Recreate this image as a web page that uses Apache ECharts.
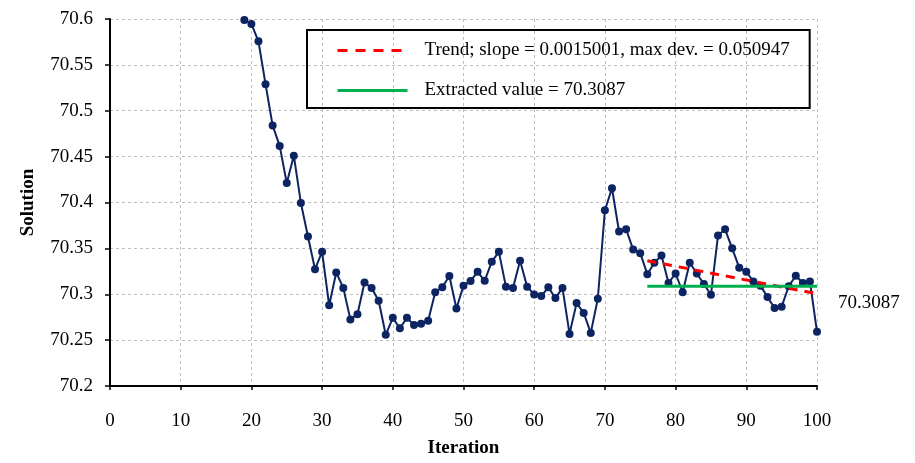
<!DOCTYPE html>
<html>
<head>
<meta charset="utf-8">
<script src="https://cdn.jsdelivr.net/npm/echarts@6/dist/echarts.min.js"></script>
<style>html,body{margin:0;padding:0;background:#fff}#c{width:915px;height:463px}</style>
</head>
<body>
<div id="c"></div>
<script>
const iterations = [19,20,21,22,23,24,25,26,27,28,29,30,31,32,33,34,35,36,37,38,39,40,41,42,43,44,45,46,47,48,49,50,51,52,53,54,55,56,57,58,59,60,61,62,63,64,65,66,67,68,69,70,71,72,73,74,75,76,77,78,79,80,81,82,83,84,85,86,87,88,89,90,91,92,93,94,95,96,97,98,99,100];
const solution = [70.599,70.5946,70.5757,70.529,70.484,70.4617,70.4213,70.451,70.3995,70.363,70.3273,70.3462,70.288,70.3237,70.3069,70.2726,70.2783,70.3129,70.3069,70.293,70.2558,70.2743,70.2629,70.2743,70.2665,70.2679,70.2711,70.3022,70.3076,70.3198,70.2844,70.3094,70.3145,70.3244,70.3147,70.3355,70.3462,70.3083,70.3069,70.3365,70.3083,70.2997,70.298,70.3076,70.2958,70.3069,70.2568,70.2904,70.2797,70.2579,70.2951,70.3916,70.4155,70.3684,70.3708,70.3487,70.3448,70.3219,70.3344,70.3423,70.3123,70.3226,70.3022,70.3344,70.3226,70.3112,70.2994,70.3641,70.3708,70.3501,70.329,70.3244,70.314,70.3094,70.2969,70.285,70.2865,70.3087,70.3201,70.3123,70.314,70.259];
const trendX = [76, 100];
const trendY = [70.3365, 70.3005];
const extractedX = [76, 100];
const extractedValue = 70.3087;
const trendName = 'Trend; slope = 0.0015001, max dev. = 0.050947';
const extractedName = 'Extracted value = 70.3087';
const extractedLabel = '70.3087';

const FONT = 'Liberation Serif';
const chart = echarts.init(document.getElementById('c'), null, {renderer: 'canvas'});
chart.setOption({
  animation: false,
  backgroundColor: '#fff',
  grid: {left: 110, right: 98, top: 19, bottom: 71, containLabel: false},
  legend: {
    orient: 'vertical', left: 307, top: 30,
    data: [
      {name: trendName, itemStyle: {opacity: 0}, lineStyle: {width: 3, type: [10, 8], color: '#ff0000'}},
      {name: extractedName, itemStyle: {opacity: 0}, lineStyle: {width: 3, color: '#00b050'}}
    ],
    itemWidth: 70, itemHeight: 20, itemGap: 21,
    padding: [11, 20, 8, 29],
    borderColor: '#000', borderWidth: 2,
    textStyle: {fontFamily: FONT, fontSize: 19, color: '#000', padding: [0, 0, 0, 12]}
  },
  xAxis: {
    type: 'value', min: 0, max: 100, interval: 10,
    name: 'Iteration', nameLocation: 'middle', nameGap: 53,
    nameTextStyle: {fontFamily: FONT, fontSize: 19, fontWeight: 'bold', color: '#000'},
    axisLine: {onZero: false, lineStyle: {color: '#000', width: 2}},
    axisTick: {show: true, length: 4, lineStyle: {color: '#000', width: 1.5}},
    axisLabel: {fontFamily: FONT, fontSize: 19, color: '#000', margin: 26},
    splitLine: {show: true, lineStyle: {color: '#bfbfbf', type: [3, 3], width: 1}}
  },
  yAxis: {
    type: 'value', min: 70.2, max: 70.6, interval: 0.05,
    name: 'Solution', nameLocation: 'middle', nameGap: 72,
    nameTextStyle: {fontFamily: FONT, fontSize: 19, fontWeight: 'bold', color: '#000'},
    axisLine: {show: true, onZero: false, lineStyle: {color: '#000', width: 2}},
    axisTick: {show: true, length: 5, lineStyle: {color: '#000', width: 1.5}},
    axisLabel: {fontFamily: FONT, fontSize: 19, color: '#000', margin: 17,
      formatter: v => String(parseFloat(v.toFixed(2)))},
    splitLine: {show: true, lineStyle: {color: '#bfbfbf', type: [3, 3], width: 1}}
  },
  series: [
    {
      type: 'line', name: 'Solution',
      data: iterations.map((x, i) => [x, solution[i]]),
      symbol: 'circle', symbolSize: 8, showSymbol: true,
      lineStyle: {color: '#0c2461', width: 2},
      itemStyle: {color: '#0c2461'},
      z: 3
    },
    {
      type: 'line', name: trendName,
      data: trendX.map((x, i) => [x, trendY[i]]),
      symbol: 'none',
      lineStyle: {color: '#ff0000', width: 3, type: [9, 7]},
      itemStyle: {color: '#ff0000'},
      z: 4
    },
    {
      type: 'line', name: extractedName,
      data: extractedX.map((x, i) => ({
        value: [x, extractedValue],
        label: i === extractedX.length - 1 ? {
          show: true, position: 'right', offset: [16, 17],
          formatter: extractedLabel, fontFamily: FONT, fontSize: 19, color: '#000'
        } : {show: false}
      })),
      symbol: 'circle', symbolSize: 0, showSymbol: true,
      lineStyle: {color: '#00b050', width: 3},
      itemStyle: {color: '#00b050'},
      z: 5
    }
  ]
});
</script>
</body>
</html>
